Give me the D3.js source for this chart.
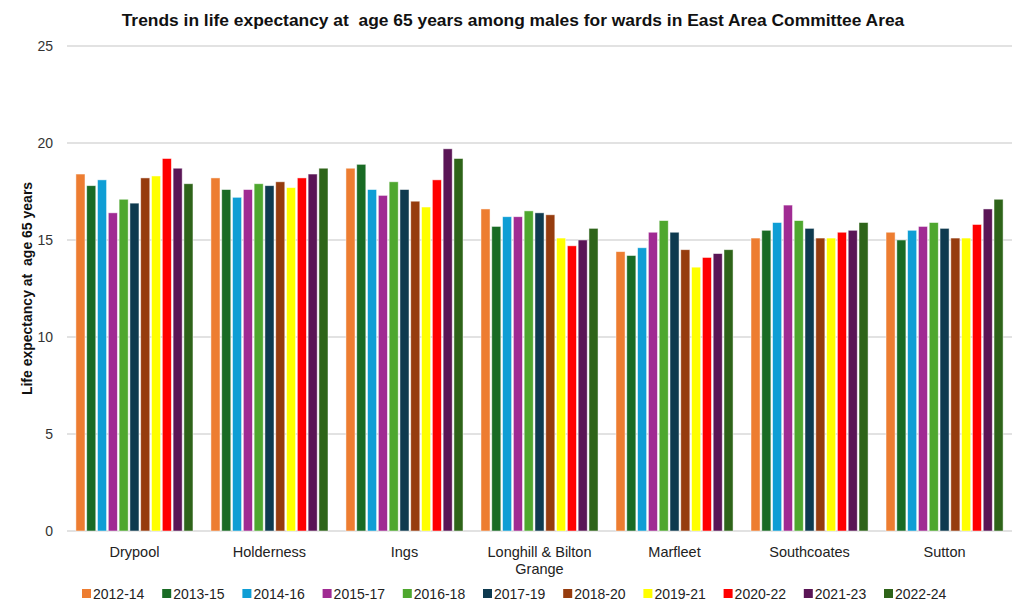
<!DOCTYPE html>
<html>
<head>
<meta charset="utf-8">
<script src="https://cdn.jsdelivr.net/npm/d3@7.9.0/dist/d3.min.js"></script>
<style>
  body { margin: 0; background: #fff; }
  svg { font-family: "Liberation Sans", Arial, sans-serif; }
</style>
</head>
<body>
<svg id="chart" width="1024" height="614"></svg>
<script>
// Wards and periods
const wards = ["Drypool", "Holderness", "Ings", "Longhill & Bilton Grange", "Marfleet", "Southcoates", "Sutton"];
const periods = ["2012-14", "2013-15", "2014-16", "2015-17", "2016-18", "2017-19", "2018-20", "2019-21", "2020-22", "2021-23", "2022-24"];
const colors = ["#ED7D31", "#196B24", "#0F9ED5", "#A02B93", "#4EA72E", "#0E3A4F", "#963C0E", "#FFFF00", "#FF0000", "#5A1556", "#2E6419"];

// Life expectancy at 65, one array per ward, in period order
const drypool     = [18.4, 17.8, 18.1, 16.4, 17.1, 16.9, 18.2, 18.3, 19.2, 18.7, 17.9];
const holderness  = [18.2, 17.6, 17.2, 17.6, 17.9, 17.8, 18.0, 17.7, 18.2, 18.4, 18.7];
const ings        = [18.7, 18.9, 17.6, 17.3, 18.0, 17.6, 17.0, 16.7, 18.1, 19.7, 19.2];
const longhill    = [16.6, 15.7, 16.2, 16.2, 16.5, 16.4, 16.3, 15.1, 14.7, 15.0, 15.6];
const marfleet    = [14.4, 14.2, 14.6, 15.4, 16.0, 15.4, 14.5, 13.6, 14.1, 14.3, 14.5];
const southcoates = [15.1, 15.5, 15.9, 16.8, 16.0, 15.6, 15.1, 15.1, 15.4, 15.5, 15.9];
const sutton      = [15.4, 15.0, 15.5, 15.7, 15.9, 15.6, 15.1, 15.1, 15.8, 16.6, 17.1];

const yTicks = [0, 5, 10, 15, 20, 25];

const valuesByWard = [drypool, holderness, ings, longhill, marfleet, southcoates, sutton];
const rows = wards.map((w, i) => ({
  ward: w,
  bars: periods.map((p, j) => ({ period: p, value: valuesByWard[i][j] }))
}));

const svg = d3.select("#chart");
const margin = { top: 46, right: 12, bottom: 83, left: 67 };
const width = 1024 - margin.left - margin.right;
const height = 614 - margin.top - margin.bottom;

const g = svg.append("g").attr("transform", `translate(${margin.left},${margin.top})`);

const x0 = d3.scaleBand().domain(wards).range([0, width]).paddingInner(0.133).paddingOuter(0.066);
const x1 = d3.scaleBand().domain(periods).range([0, x0.bandwidth()]).paddingInner(0.16);
const y = d3.scaleLinear().domain([0, 25]).range([height, 0]);
const color = d3.scaleOrdinal().domain(periods).range(colors);

// Gridlines
g.append("g")
  .selectAll("line")
  .data(yTicks)
  .join("line")
  .attr("x1", 0)
  .attr("x2", width)
  .attr("y1", d => y(d))
  .attr("y2", d => y(d))
  .attr("stroke", "#d9d9d9")
  .attr("stroke-width", 1.5);

// Y axis
const yAxis = g.append("g")
  .call(d3.axisLeft(y).tickValues(yTicks).tickSize(0).tickPadding(14));
yAxis.select(".domain").remove();
yAxis.selectAll("text")
  .attr("font-size", "14px")
  .attr("fill", "#333")
  .attr("font-family", "Liberation Sans, Arial, sans-serif");

// Bars
g.append("g")
  .selectAll("g")
  .data(rows)
  .join("g")
  .attr("transform", d => `translate(${x0(d.ward)},0)`)
  .selectAll("rect")
  .data(d => d.bars)
  .join("rect")
  .attr("x", d => x1(d.period))
  .attr("y", d => y(d.value))
  .attr("width", x1.bandwidth())
  .attr("height", d => y(0) - y(d.value))
  .attr("fill", d => color(d.period))
  .attr("stroke", "#ffffff")
  .attr("stroke-opacity", 0.6)
  .attr("stroke-width", 0.8);

// X labels (wrap Longhill)
const xLab = g.append("g")
  .selectAll("text")
  .data(wards)
  .join("text")
  .attr("x", d => x0(d) + x0.bandwidth() / 2)
  .attr("y", height + 26)
  .attr("text-anchor", "middle")
  .attr("font-size", "14.5px")
  .attr("fill", "#222");
xLab.each(function (d) {
  const t = d3.select(this);
  const parts = d === "Longhill & Bilton Grange" ? ["Longhill & Bilton", "Grange"] : [d];
  parts.forEach((p, i) => {
    t.append("tspan")
      .attr("x", x0(d) + x0.bandwidth() / 2)
      .attr("dy", i === 0 ? 0 : 17)
      .text(p);
  });
});

// Title
svg.append("text")
  .attr("x", 513)
  .attr("y", 26)
  .attr("text-anchor", "middle")
  .attr("font-size", "17.4px")
  .attr("font-weight", "bold")
  .attr("fill", "#111")
  .style("white-space", "pre")
  .text("Trends in life expectancy at  age 65 years among males for wards in East Area Committee Area");

// Y axis title
svg.append("text")
  .attr("transform", `translate(32,${margin.top + height / 2}) rotate(-90)`)
  .attr("text-anchor", "middle")
  .attr("font-size", "14px")
  .attr("font-weight", "bold")
  .attr("fill", "#111")
  .style("white-space", "pre")
  .text("Life expectancy at  age 65 years");

// Legend
const legend = svg.append("g")
  .selectAll("g")
  .data(periods)
  .join("g")
  .attr("transform", (d, i) => `translate(${82 + i * 80.2},589)`);
legend.append("rect")
  .attr("width", 9)
  .attr("height", 9)
  .attr("fill", d => color(d));
legend.append("text")
  .attr("x", 11)
  .attr("y", 9.5)
  .attr("font-size", "14px")
  .attr("fill", "#222")
  .text(d => d);
</script>
</body>
</html>
